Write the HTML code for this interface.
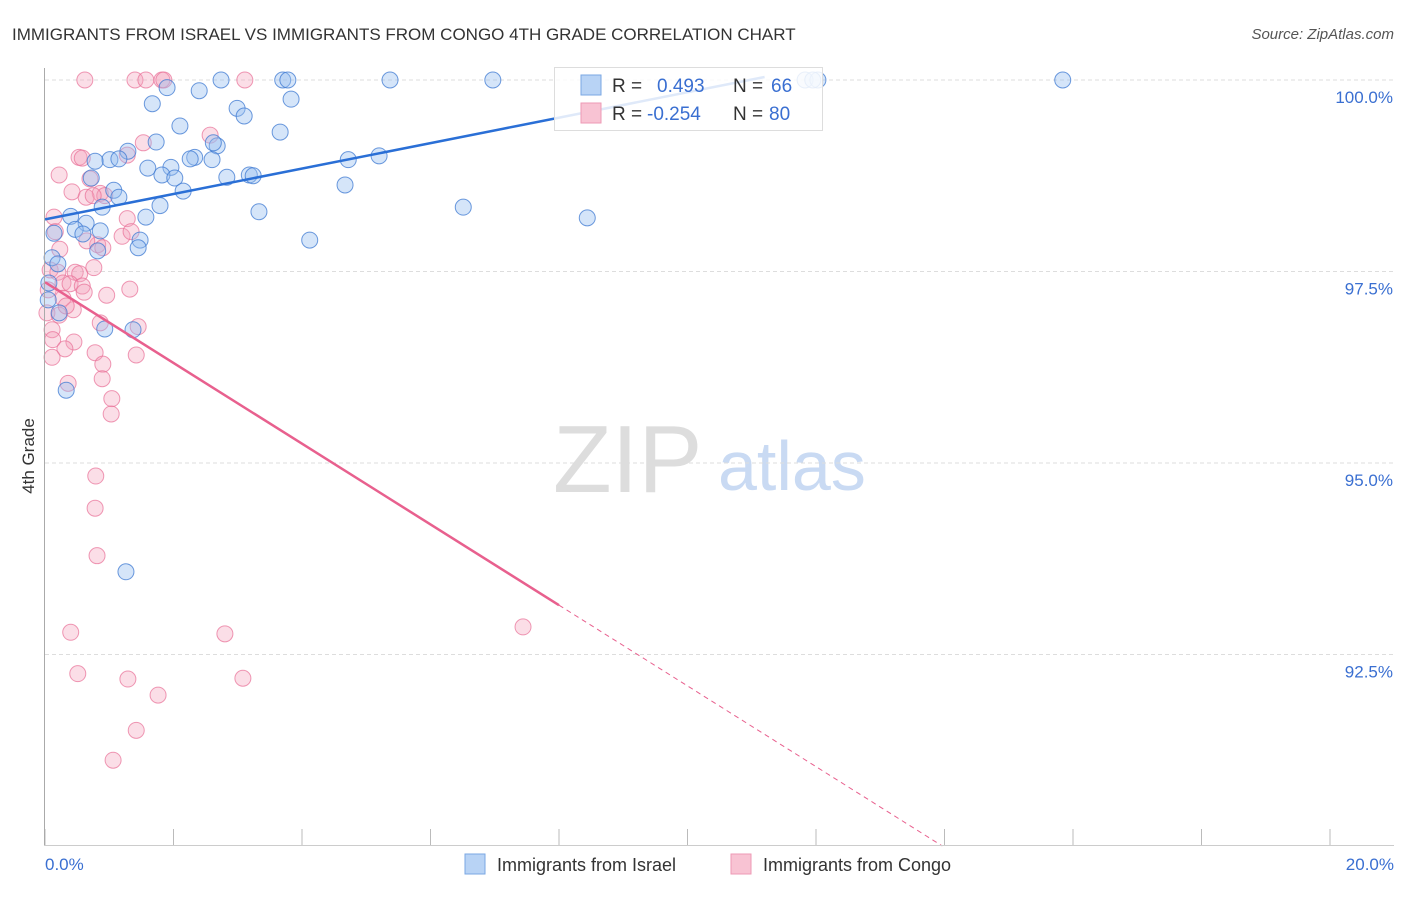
<!DOCTYPE html>
<html><head><meta charset="utf-8"><style>
body{margin:0;background:#fff;font-family:"Liberation Sans",sans-serif}
svg text{font-family:"Liberation Sans",sans-serif}
</style></head><body>
<svg id="c" width="1406" height="892">
<text x="12" y="40" font-size="17" fill="#333">IMMIGRANTS FROM ISRAEL VS IMMIGRANTS FROM CONGO 4TH GRADE CORRELATION CHART</text>
<text x="1394" y="39" font-size="15" fill="#555" font-style="italic" text-anchor="end">Source: ZipAtlas.com</text>
<text x="34" y="456" font-size="17" fill="#333" text-anchor="middle" transform="rotate(-90 34 456)">4th Grade</text>
<g><text x="553" y="492" font-size="96" fill="#ddd" font-family="Liberation Serif">ZIP</text><text x="718" y="490" font-size="70" fill="#c9daf3">atlas</text></g>
<g id="grid"></g><g id="pts"></g><g id="lines"></g>
<line x1="44.5" y1="68" x2="44.5" y2="845" stroke="#aaa"/>
<line x1="44" y1="845.5" x2="1394" y2="845.5" stroke="#ccc"/>
<g>
<rect x="554.5" y="67.5" width="268" height="63" fill="rgba(255,255,255,0.85)" stroke="#ddd"/>
<rect x="581" y="75" width="20" height="20" fill="#b8d3f5" stroke="#7aa7e3"/>
<rect x="581" y="103" width="20" height="20" fill="#f8c3d3" stroke="#ee9ab4"/>
<text x="612" y="92" font-size="19" fill="#333">R = </text><text x="657" y="92" font-size="19" fill="#3a6fd1">0.493</text>
<text x="733" y="92" font-size="19" fill="#333">N = </text><text x="771" y="92" font-size="19" fill="#3a6fd1">66</text>
<text x="612" y="120" font-size="19" fill="#333">R = </text><text x="647" y="120" font-size="19" fill="#3a6fd1">-0.254</text>
<text x="733" y="120" font-size="19" fill="#333">N = </text><text x="769" y="120" font-size="19" fill="#3a6fd1">80</text>
</g>
<text x="45" y="870" font-size="17" fill="#3a6fd1">0.0%</text>
<text x="1394" y="870" font-size="17" fill="#3a6fd1" text-anchor="end">20.0%</text>
<g><rect x="465" y="854" width="20" height="20" fill="#b8d3f5" stroke="#7aa7e3"/><text x="497" y="871" font-size="18" fill="#333">Immigrants from Israel</text></g>
<g><rect x="731" y="854" width="20" height="20" fill="#f8c3d3" stroke="#ee9ab4"/><text x="763" y="871" font-size="18" fill="#333">Immigrants from Congo</text></g>
</svg>
<script>
const yTicks=[100,97.5,95,92.5];
const yTickLabels=["100.0%","97.5%","95.0%","92.5%"];
const xTicks=[0,2,4,6,8,10,12,14,16,18,20];
const israelX=[1.67,1.90,2.40,2.74,3.70,3.78,5.37,6.97,11.83,12.03,15.84,3.83,2.99,3.10,2.10,3.66,1.73,2.68,1.29,2.33,2.26,2.60,1.01,1.15,0.78,5.20,4.72,1.60,1.96,1.82,2.02,2.83,3.18,3.24,0.72,4.67,1.07,2.15,0.89,1.79,1.15,6.51,3.33,1.57,0.40,8.44,0.64,0.47,0.86,0.59,4.12,1.48,1.45,0.82,0.14,0.11,0.20,0.06,0.05,0.22,0.93,1.37,0.33,1.26,11.95,2.62];
const israelY=[99.69,99.90,99.86,100,100,100,100,100,100,100,100,99.75,99.63,99.53,99.40,99.32,99.19,99.14,99.07,98.99,98.97,98.96,98.96,98.97,98.94,99.01,98.96,98.85,98.86,98.76,98.72,98.73,98.76,98.75,98.72,98.63,98.56,98.55,98.34,98.36,98.47,98.34,98.28,98.21,98.22,98.20,98.13,98.05,98.03,97.99,97.91,97.91,97.81,97.77,98.00,97.68,97.60,97.35,97.13,96.96,96.75,96.74,95.95,93.58,100,99.18];
const congoX=[0.62,1.40,1.57,1.82,1.85,3.11,2.57,1.53,0.53,1.28,0.22,0.42,0.70,0.86,0.64,0.93,0.14,1.28,0.16,0.82,0.65,1.20,1.34,0.23,0.90,0.08,0.20,0.47,0.54,0.76,0.28,0.39,0.58,0.61,0.96,1.32,0.28,0.03,0.44,0.22,0.11,0.86,0.12,0.45,0.31,1.45,0.11,0.78,1.42,0.36,0.90,0.89,1.04,1.03,0.79,0.78,0.81,0.40,2.80,7.44,0.51,1.29,3.08,1.76,1.42,1.06,0.05,0.58,0.75,0.33];
const congoY=[100,100,100,100,100,100,99.28,99.18,98.99,99.02,98.76,98.54,98.71,98.52,98.47,98.49,98.21,98.19,98.02,97.85,97.90,97.96,98.02,97.79,97.81,97.52,97.49,97.49,97.47,97.55,97.35,97.34,97.31,97.23,97.19,97.27,97.15,96.96,97.00,96.93,96.74,96.83,96.61,96.58,96.49,96.78,96.38,96.44,96.41,96.04,96.29,96.10,95.84,95.64,94.83,94.41,93.79,92.79,92.77,92.86,92.25,92.18,92.19,91.97,91.51,91.12,97.26,98.98,98.49,97.05];
const israelTrend=[98.18,0.166,11.2];
const congoTrend=[97.36,-0.527,8.0];
const NS="http://www.w3.org/2000/svg";
const X=v=>45+v*64.25, Y=v=>80+(100-v)*76.6;
function mk(t,a,p){const e=document.createElementNS(NS,t);for(const k in a)e.setAttribute(k,a[k]);p.appendChild(e);return e;}
const grid=document.getElementById('grid');
yTicks.forEach((t,i)=>{const l=mk('line',{x1:45,x2:1394,y1:Y(t),y2:Y(t),stroke:'#ddd','stroke-dasharray':'4,3'},grid);


const tx=mk('text',{x:1393,y:Y(t)+23,'font-size':17,fill:'#3a6fd1','text-anchor':'end'},grid);tx.textContent=yTickLabels[i];

});
xTicks.forEach(t=>{const l=mk('line',{x1:X(t),x2:X(t),y1:829,y2:845,stroke:'#bbb'},grid);

});
const pts=document.getElementById('pts');
congoX.forEach((x,i)=>{const c=mk('circle',{cx:X(x),cy:Y(congoY[i]),r:8,fill:'rgba(244,160,185,0.35)',stroke:'rgba(232,110,150,0.7)','stroke-width':1},pts);

});
israelX.forEach((x,i)=>{const c=mk('circle',{cx:X(x),cy:Y(israelY[i]),r:8,fill:'rgba(150,190,240,0.4)',stroke:'rgba(60,120,210,0.75)','stroke-width':1},pts);

});
const ln=document.getElementById('lines');
let b=israelTrend;
const bl=mk('line',{x1:X(0),y1:Y(b[0]),x2:X(b[2]),y2:Y(b[0]+b[1]*b[2]),stroke:'#2a6fd6','stroke-width':2.5},ln);


let p=congoTrend;
const pl=mk('line',{x1:X(0),y1:Y(p[0]),x2:X(p[2]),y2:Y(p[0]+p[1]*p[2]),stroke:'#e8608e','stroke-width':2.5},ln);


const xe=(90-p[0])/p[1];
const pd=mk('line',{x1:X(p[2]),y1:Y(p[0]+p[1]*p[2]),x2:X(xe),y2:Y(90),stroke:'#e8608e','stroke-width':1,'stroke-dasharray':'5,4'},ln);


</script>
</body></html>
